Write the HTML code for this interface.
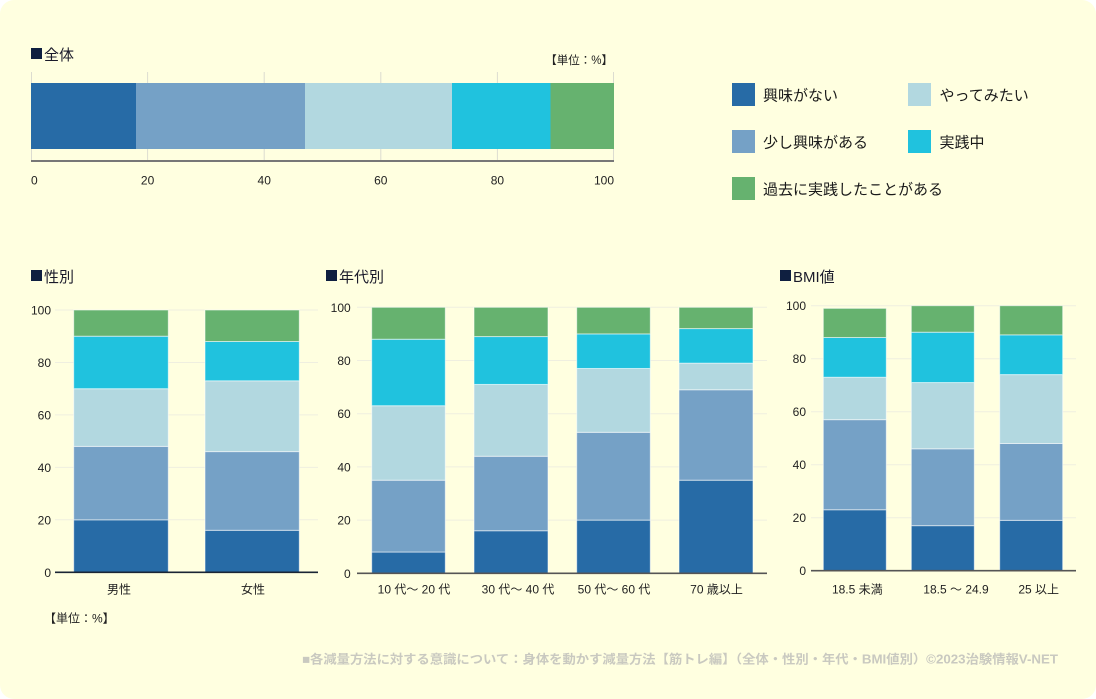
<!DOCTYPE html>
<html><head><meta charset="utf-8">
<style>
html,body{margin:0;padding:0;background:#ffffff;}
svg{display:block;}
text{font-family:"Liberation Sans","Noto Sans CJK JP",sans-serif;fill:#222;}
.t{font-size:15px;font-weight:normal;fill:#1a1a2a;}
.tk{font-size:12px;fill:#222;}
.lg{font-size:15px;fill:#1a1a1a;}
.s rect{stroke:rgba(255,255,255,0.55);stroke-width:1;}
</style></head>
<body>
<svg width="1096" height="699" viewBox="0 0 1096 699" xmlns="http://www.w3.org/2000/svg">
<rect x="0" y="0" width="1096" height="699" rx="14" ry="14" fill="#ffffe0"/>

<!-- ===== 全体 ===== -->
<rect x="31" y="48" width="11" height="11" fill="#0f1f40"/>
<text class="t" x="44" y="60">全体</text>
<text x="613" y="64" font-size="11.5" text-anchor="end" fill="#222">【単位：%】</text>
<g stroke="#dcdcd0" stroke-width="1">
<line x1="31.5" y1="72" x2="31.5" y2="161"/>
<line x1="147.6" y1="72" x2="147.6" y2="161"/>
<line x1="264.2" y1="72" x2="264.2" y2="161"/>
<line x1="380.8" y1="72" x2="380.8" y2="161"/>
<line x1="497.4" y1="72" x2="497.4" y2="161"/>
<line x1="613.5" y1="72" x2="613.5" y2="161"/>
</g>
<rect x="31" y="83" width="105" height="66" fill="#276ba6"/>
<rect x="136" y="83" width="169" height="66" fill="#75a1c6"/>
<rect x="305" y="83" width="147" height="66" fill="#b2d8e0"/>
<rect x="452" y="83" width="98.5" height="66" fill="#20c2de"/>
<rect x="550.5" y="83" width="63.5" height="66" fill="#66b26f"/>
<line x1="31" y1="161" x2="614" y2="161" stroke="#777" stroke-width="2"/>
<text class="tk" x="31" y="184.5">0</text>
<text class="tk" x="147.6" y="184.5" text-anchor="middle">20</text>
<text class="tk" x="264.2" y="184.5" text-anchor="middle">40</text>
<text class="tk" x="380.8" y="184.5" text-anchor="middle">60</text>
<text class="tk" x="497.4" y="184.5" text-anchor="middle">80</text>
<text class="tk" x="614" y="184.5" text-anchor="end">100</text>

<!-- ===== Legend ===== -->
<rect x="732" y="83" width="23" height="23" fill="#276ba6"/>
<text class="lg" x="763" y="100.5">興味がない</text>
<rect x="908" y="83" width="23" height="23" fill="#b2d8e0"/>
<text class="lg" x="939.5" y="100.5">やってみたい</text>
<rect x="732" y="130" width="23" height="23" fill="#75a1c6"/>
<text class="lg" x="763" y="147.5">少し興味がある</text>
<rect x="908" y="130" width="23" height="23" fill="#20c2de"/>
<text class="lg" x="939.5" y="147.5">実践中</text>
<rect x="732" y="177" width="23" height="23" fill="#66b26f"/>
<text class="lg" x="763" y="194.5">過去に実践したことがある</text>

<!-- ===== 性別 ===== -->
<rect x="31" y="270" width="11" height="11" fill="#0f1f40"/>
<text class="t" x="44" y="282">性別</text>
<g stroke="#efefe0" stroke-width="1">
<line x1="55" y1="310" x2="318" y2="310"/>
<line x1="55" y1="362.5" x2="318" y2="362.5"/>
<line x1="55" y1="414.9" x2="318" y2="414.9"/>
<line x1="55" y1="467.4" x2="318" y2="467.4"/>
<line x1="55" y1="519.8" x2="318" y2="519.8"/>
</g>
<text class="tk" x="51" y="314.5" text-anchor="end">100</text>
<text class="tk" x="51" y="367" text-anchor="end">80</text>
<text class="tk" x="51" y="419.4" text-anchor="end">60</text>
<text class="tk" x="51" y="471.9" text-anchor="end">40</text>
<text class="tk" x="51" y="524.3" text-anchor="end">20</text>
<text class="tk" x="51" y="576.8" text-anchor="end">0</text>
<g class="s">
<rect x="73.7" y="519.84" width="94.6" height="52.46" fill="#276ba6"/>
<rect x="73.7" y="446.4" width="94.6" height="73.44" fill="#75a1c6"/>
<rect x="73.7" y="388.7" width="94.6" height="57.7" fill="#b2d8e0"/>
<rect x="73.7" y="336.2" width="94.6" height="52.5" fill="#20c2de"/>
<rect x="73.7" y="310" width="94.6" height="26.2" fill="#66b26f"/>
<rect x="205" y="530.3" width="94.3" height="42" fill="#276ba6"/>
<rect x="205" y="451.6" width="94.3" height="78.7" fill="#75a1c6"/>
<rect x="205" y="380.8" width="94.3" height="70.8" fill="#b2d8e0"/>
<rect x="205" y="341.5" width="94.3" height="39.3" fill="#20c2de"/>
<rect x="205" y="310" width="94.3" height="31.5" fill="#66b26f"/>
</g>
<line x1="55" y1="572.3" x2="318" y2="572.3" stroke="#1a2535" stroke-width="1.6"/>
<text class="tk" x="119" y="593.5" text-anchor="middle">男性</text>
<text class="tk" x="253" y="593.5" text-anchor="middle">女性</text>
<text class="tk" x="44" y="622.5">【単位：%】</text>

<!-- ===== 年代別 ===== -->
<rect x="326" y="270" width="11" height="11" fill="#0f1f40"/>
<text class="t" x="339" y="282">年代別</text>
<g stroke="#efefe0" stroke-width="1">
<line x1="357" y1="307.3" x2="767" y2="307.3"/>
<line x1="357" y1="360.5" x2="767" y2="360.5"/>
<line x1="357" y1="413.7" x2="767" y2="413.7"/>
<line x1="357" y1="466.9" x2="767" y2="466.9"/>
<line x1="357" y1="520.1" x2="767" y2="520.1"/>
</g>
<text class="tk" x="350.7" y="311.8" text-anchor="end">100</text>
<text class="tk" x="350.7" y="365" text-anchor="end">80</text>
<text class="tk" x="350.7" y="418.2" text-anchor="end">60</text>
<text class="tk" x="350.7" y="471.4" text-anchor="end">40</text>
<text class="tk" x="350.7" y="524.6" text-anchor="end">20</text>
<text class="tk" x="350.7" y="577.8" text-anchor="end">0</text>
<g class="s">
<rect x="371.7" y="552.02" width="73.6" height="21.28" fill="#276ba6"/>
<rect x="371.7" y="480.2" width="73.6" height="71.82" fill="#75a1c6"/>
<rect x="371.7" y="405.72" width="73.6" height="74.48" fill="#b2d8e0"/>
<rect x="371.7" y="339.22" width="73.6" height="66.5" fill="#20c2de"/>
<rect x="371.7" y="307.3" width="73.6" height="31.92" fill="#66b26f"/>

<rect x="474" y="530.74" width="74" height="42.56" fill="#276ba6"/>
<rect x="474" y="456.26" width="74" height="74.48" fill="#75a1c6"/>
<rect x="474" y="384.44" width="74" height="71.82" fill="#b2d8e0"/>
<rect x="474" y="336.56" width="74" height="47.88" fill="#20c2de"/>
<rect x="474" y="307.3" width="74" height="29.26" fill="#66b26f"/>

<rect x="576.7" y="520.1" width="73.6" height="53.2" fill="#276ba6"/>
<rect x="576.7" y="432.32" width="73.6" height="87.78" fill="#75a1c6"/>
<rect x="576.7" y="368.48" width="73.6" height="63.84" fill="#b2d8e0"/>
<rect x="576.7" y="333.9" width="73.6" height="34.58" fill="#20c2de"/>
<rect x="576.7" y="307.3" width="73.6" height="26.6" fill="#66b26f"/>

<rect x="679" y="480.2" width="74" height="93.1" fill="#276ba6"/>
<rect x="679" y="389.76" width="74" height="90.44" fill="#75a1c6"/>
<rect x="679" y="363.16" width="74" height="26.6" fill="#b2d8e0"/>
<rect x="679" y="328.58" width="74" height="34.58" fill="#20c2de"/>
<rect x="679" y="307.3" width="74" height="21.28" fill="#66b26f"/>
</g>
<line x1="357" y1="573.3" x2="767" y2="573.3" stroke="#555" stroke-width="1.6"/>
<text class="tk" x="414" y="593.5" text-anchor="middle">10 代～ 20 代</text>
<text class="tk" x="518" y="593.5" text-anchor="middle">30 代～ 40 代</text>
<text class="tk" x="614" y="593.5" text-anchor="middle">50 代～ 60 代</text>
<text class="tk" x="716.5" y="593.5" text-anchor="middle">70 歳以上</text>

<!-- ===== BMI値 ===== -->
<rect x="780" y="270" width="11" height="11" fill="#0f1f40"/>
<text class="t" x="793" y="282">BMI値</text>
<g stroke="#efefe0" stroke-width="1">
<line x1="811" y1="305.7" x2="1076" y2="305.7"/>
<line x1="811" y1="358.7" x2="1076" y2="358.7"/>
<line x1="811" y1="411.7" x2="1076" y2="411.7"/>
<line x1="811" y1="464.7" x2="1076" y2="464.7"/>
<line x1="811" y1="517.7" x2="1076" y2="517.7"/>
</g>
<text class="tk" x="806" y="310.2" text-anchor="end">100</text>
<text class="tk" x="806" y="363.2" text-anchor="end">80</text>
<text class="tk" x="806" y="416.2" text-anchor="end">60</text>
<text class="tk" x="806" y="469.2" text-anchor="end">40</text>
<text class="tk" x="806" y="522.2" text-anchor="end">20</text>
<text class="tk" x="806" y="575.2" text-anchor="end">0</text>
<g class="s">
<rect x="823.3" y="509.75" width="63" height="60.95" fill="#276ba6"/>
<rect x="823.3" y="419.65" width="63" height="90.1" fill="#75a1c6"/>
<rect x="823.3" y="377.25" width="63" height="42.4" fill="#b2d8e0"/>
<rect x="823.3" y="337.5" width="63" height="39.75" fill="#20c2de"/>
<rect x="823.3" y="308.35" width="63" height="29.15" fill="#66b26f"/>

<rect x="911.3" y="525.65" width="63" height="45.05" fill="#276ba6"/>
<rect x="911.3" y="448.8" width="63" height="76.85" fill="#75a1c6"/>
<rect x="911.3" y="382.55" width="63" height="66.25" fill="#b2d8e0"/>
<rect x="911.3" y="332.2" width="63" height="50.35" fill="#20c2de"/>
<rect x="911.3" y="305.7" width="63" height="26.5" fill="#66b26f"/>

<rect x="999.7" y="520.35" width="63" height="50.35" fill="#276ba6"/>
<rect x="999.7" y="443.5" width="63" height="76.85" fill="#75a1c6"/>
<rect x="999.7" y="374.6" width="63" height="68.9" fill="#b2d8e0"/>
<rect x="999.7" y="334.85" width="63" height="39.75" fill="#20c2de"/>
<rect x="999.7" y="305.7" width="63" height="29.15" fill="#66b26f"/>
</g>
<line x1="811" y1="570.7" x2="1076" y2="570.7" stroke="#555" stroke-width="1.6"/>
<text class="tk" x="857.3" y="593.5" text-anchor="middle">18.5 未満</text>
<text class="tk" x="956" y="593.5" text-anchor="middle">18.5 ～ 24.9</text>
<text class="tk" x="1038.7" y="593.5" text-anchor="middle">25 以上</text>

<!-- ===== Footer ===== -->
<text x="302" y="663.5" font-size="12.5" font-weight="bold" style="fill:#c9c9c0" textLength="756" lengthAdjust="spacingAndGlyphs">■各減量方法に対する意識について：身体を動かす減量方法【筋トレ編】（全体・性別・年代・BMI値別）©2023治験情報V-NET</text>
</svg>
</body></html>
